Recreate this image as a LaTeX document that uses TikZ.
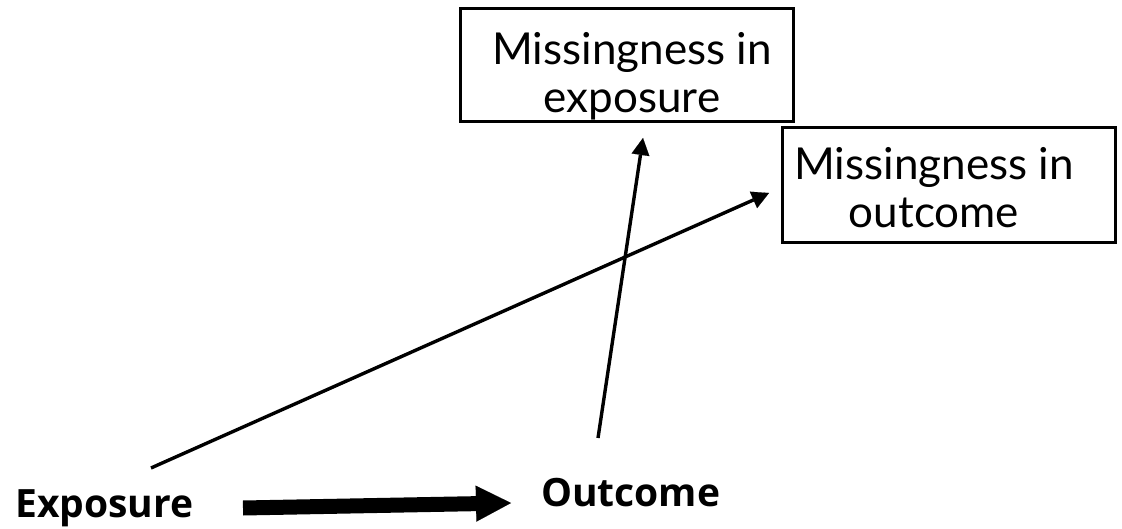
\documentclass[tikz,border=0pt]{standalone}
\usepackage{fontspec}
\setmainfont{Lato}
\newfontfamily\boldfam{Open Sans}
\usetikzlibrary{arrows.meta}
\tikzset{
  boxshape/.style={draw=black, line width=3pt, rectangle, inner sep=0pt},
  boxtext/.style={align=center, inner sep=0pt, font=\fontsize{44}{48}\selectfont},
  bottomtext/.style={inner sep=0pt, font=\boldfam\bfseries\fontsize{39}{44}\selectfont},
  thinarrow/.style={line width=3.4pt, -{Triangle[width=18pt,length=17pt,line width=0.1pt]}},
  thickarrow/.style={line width=15pt, -{Triangle[width=36pt,length=35pt,line width=0.1pt]}}
}
\begin{document}
\begin{tikzpicture}[x=1pt,y=-1pt]
\useasboundingbox[fill=white] (0,0) rectangle (1122,529);
% boxes
\node[boxshape, minimum width=333pt, minimum height=113pt] (me) at (626.5,65.5) {};
\node[boxshape, minimum width=333pt, minimum height=115pt] (mo) at (948.5,185.5) {};
\node[boxtext, anchor=base] (metext) at (632,113) {Missingness in\\exposure};
\node[boxtext, anchor=base] (motext) at (934,228) {Missingness in\\outcome};
% bottom labels
\node[bottomtext, anchor=base west] (exp) at (15,517) {Exposure};
\node[bottomtext, anchor=base west] (out) at (541,506) {Outcome};
% connector ends
\coordinate (expstart) at (151,468);
\coordinate (outstart) at (598,438);
\coordinate (metip) at (643,138);
\coordinate (motip) at (769,193);
\coordinate (thickstart) at (243,508);
\coordinate (thicktip) at (511,503);
% connectors
\draw[thinarrow] (expstart) -- (motip);
\draw[thinarrow] (outstart) -- (metip);
\draw[thickarrow] (thickstart) -- (thicktip);
\end{tikzpicture}
\end{document}
